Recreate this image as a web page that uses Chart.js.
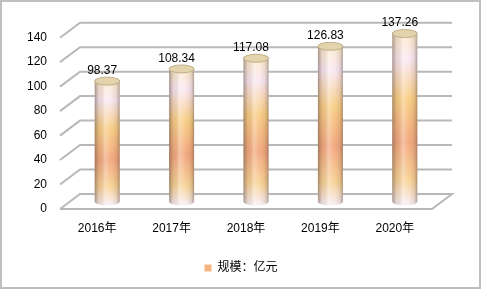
<!DOCTYPE html>
<html lang="zh">
<head>
<meta charset="utf-8">
<title>规模</title>
<script src="https://cdn.jsdelivr.net/npm/chart.js@4"></script>
<style>
  html, body { margin: 0; padding: 0; background: #fff; }
</style>
</head>
<body>
<canvas id="scaleChart" width="482" height="290"></canvas>
<script>
// data
const years = ["2016年", "2017年", "2018年", "2019年", "2020年"];
const scaleValues = [98.37, 108.34, 117.08, 126.83, 137.26];
const yTicks = [0, 20, 40, 60, 80, 100, 120, 140];
const seriesName = "规模：亿元";

const FONT = '"Liberation Sans", "Noto Sans CJK SC", sans-serif';
// half of the 3D depth: back wall is +DX/-DY, front edge -DX/+DY
const DX = 10, DY = 7.5;

function cylinder(ctx, x, top, base, w) {
  const rx = w / 2, ry = 4;
  const l = x - rx, r = x + rx;

  ctx.beginPath();
  ctx.moveTo(l, top);
  ctx.lineTo(l, base);
  ctx.ellipse(x, base, rx, ry, 0, Math.PI, 0, true);
  ctx.lineTo(r, top);
  ctx.ellipse(x, top, rx, ry, 0, 0, Math.PI, true);
  ctx.closePath();

  // colour bands top -> bottom
  const vg = ctx.createLinearGradient(0, top, 0, base + ry);
  vg.addColorStop(0, '#fbe9c6');
  vg.addColorStop(0.15, '#f9e6f4');
  vg.addColorStop(0.38, '#f8cb7c');
  vg.addColorStop(0.63, '#f2a176');
  vg.addColorStop(0.85, '#f7cf8e');
  vg.addColorStop(1, '#f8eef8');
  ctx.fillStyle = vg;
  ctx.fill();

  // round shading left -> right
  const hg = ctx.createLinearGradient(l, 0, r, 0);
  hg.addColorStop(0, 'rgba(95,80,75,0.55)');
  hg.addColorStop(0.18, 'rgba(140,115,100,0.15)');
  hg.addColorStop(0.42, 'rgba(255,255,255,0.35)');
  hg.addColorStop(0.65, 'rgba(255,255,255,0.1)');
  hg.addColorStop(0.88, 'rgba(140,115,100,0.18)');
  hg.addColorStop(1, 'rgba(95,80,75,0.5)');
  ctx.fillStyle = hg;
  ctx.fill();

  // top cap
  ctx.beginPath();
  ctx.ellipse(x, top, rx, ry, 0, 0, Math.PI * 2);
  ctx.fillStyle = '#e3d4ad';
  ctx.fill();
  ctx.strokeStyle = 'rgba(175,155,115,0.7)';
  ctx.lineWidth = 1;
  ctx.stroke();
}

const threeD = {
  id: 'threeD',
  afterLayout(chart) {
    // legend is centred on the whole picture, not on the padded box
    const lg = chart.legend;
    const shift = chart.width / 2 - (lg.left + lg.right) / 2;
    lg.left += shift;
    lg.right += shift;
  },
  beforeDraw(chart) {
    const ctx = chart.ctx;
    ctx.save();
    ctx.fillStyle = '#fff';
    ctx.fillRect(0, 0, chart.width, chart.height);
    ctx.restore();
  },
  beforeDatasetsDraw(chart) {
    const {ctx, chartArea: a, scales: {y}} = chart;
    ctx.save();
    ctx.strokeStyle = '#b8b8b8';
    ctx.lineWidth = 2;
    y.ticks.forEach(t => {
      const py = y.getPixelForValue(t.value);
      ctx.beginPath();
      ctx.moveTo(a.left - DX, py + DY);
      ctx.lineTo(a.left + DX, py - DY);
      ctx.lineTo(a.right + DX, py - DY);
      if (t.value === 0) {
        ctx.lineTo(a.right - DX, py + DY);
        ctx.lineTo(a.left - DX, py + DY);
      }
      ctx.stroke();
    });
    ctx.restore();
  },
  afterDatasetsDraw(chart) {
    const ctx = chart.ctx;
    const meta = chart.getDatasetMeta(0);
    ctx.save();
    meta.data.forEach((bar, i) => {
      cylinder(ctx, bar.x, bar.y, bar.base, bar.width);
      ctx.fillStyle = '#000';
      ctx.font = '12px ' + FONT;
      ctx.textAlign = 'center';
      ctx.textBaseline = 'middle';
      ctx.fillText(scaleValues[i].toFixed(2), bar.x - 5, bar.y - 10.5);
    });
    ctx.restore();
  },
  afterDraw(chart) {
    const ctx = chart.ctx;
    ctx.save();
    ctx.strokeStyle = '#bfbfbf';
    ctx.lineWidth = 2;
    ctx.strokeRect(1, 1, 479, 287);
    ctx.restore();
  }
};

new Chart(document.getElementById('scaleChart'), {
  type: 'bar',
  data: {
    labels: years,
    datasets: [{
      label: seriesName,
      data: scaleValues,
      backgroundColor: 'rgba(0,0,0,0)',
      borderWidth: 0,
      barThickness: 25
    }]
  },
  plugins: [threeD],
  options: {
    responsive: false,
    animation: false,
    devicePixelRatio: 1,
    layout: { padding: { top: 28.7, left: 8, right: 40, bottom: 6 } },
    scales: {
      x: {
        grid: { display: false, drawTicks: false },
        border: { display: false },
        ticks: { color: '#000', font: { size: 12, family: FONT }, padding: 20, labelOffset: -DX, maxRotation: 0 },
        afterFit(s) { s.height = 50.5; }
      },
      y: {
        min: yTicks[0],
        max: yTicks[yTicks.length - 1],
        grid: { display: false, drawTicks: false },
        border: { display: false },
        ticks: { stepSize: yTicks[1] - yTicks[0], color: '#000', font: { size: 12, family: FONT }, padding: 23, labelOffset: DY },
        afterFit(s) { s.width = 62; }
      }
    },
    plugins: {
      tooltip: { enabled: false },
      legend: {
        position: 'bottom',
        labels: {
          boxWidth: 7,
          boxHeight: 7,
          padding: 10,
          color: '#000',
          font: { size: 12, family: FONT },
          generateLabels: chart => chart.data.datasets.map((ds, i) => ({
            text: ds.label,
            fillStyle: '#f6b483',
            strokeStyle: '#f6b483',
            lineWidth: 0,
            datasetIndex: i
          }))
        }
      }
    }
  }
});
</script>
</body>
</html>
